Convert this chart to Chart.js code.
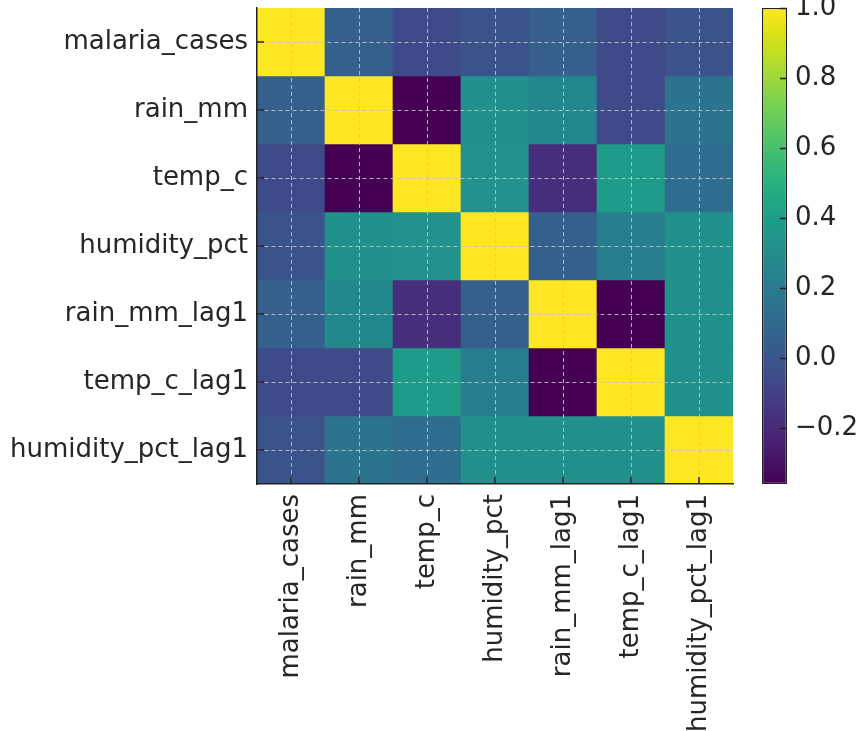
<!DOCTYPE html>
<html>
<head>
<meta charset="utf-8">
<script src="https://cdn.jsdelivr.net/npm/chart.js@4.4.1/dist/chart.umd.min.js"></script>
<style>
  html, body { margin: 0; padding: 0; background: #fff; }
  #wrap { position: relative; width: 858px; height: 731px; overflow: hidden; }
  #heatmap { position: absolute; left: 0; top: 0; }
  #colorbar { position: absolute; left: 740px; top: 0; }
</style>
</head>
<body>
<div id="wrap">
  <canvas id="heatmap" width="740" height="731"></canvas>
  <canvas id="colorbar" width="118" height="731"></canvas>
</div>
<script>
// Variables (rows and columns of the correlation matrix)
const variables = ['malaria_cases', 'rain_mm', 'temp_c', 'humidity_pct', 'rain_mm_lag1', 'temp_c_lag1', 'humidity_pct_lag1'];

// Correlation rows
const malariaCases    = [ 1.00,  0.05, -0.06, -0.01,  0.05, -0.06, -0.02];
const rainMm          = [ 0.05,  1.00, -0.36,  0.32,  0.27, -0.06,  0.16];
const tempC           = [-0.06, -0.36,  1.00,  0.33, -0.18,  0.39,  0.12];
const humidityPct     = [-0.01,  0.32,  0.33,  1.00,  0.05,  0.22,  0.32];
const rainMmLag1      = [ 0.05,  0.27, -0.18,  0.05,  1.00, -0.36,  0.32];
const tempCLag1       = [-0.06, -0.06,  0.39,  0.22, -0.36,  1.00,  0.32];
const humidityPctLag1 = [-0.02,  0.16,  0.12,  0.32,  0.32,  0.32,  1.00];

const colorbarTicks = [-0.2, 0.0, 0.2, 0.4, 0.6, 0.8, 1.0];

const corrRows = [malariaCases, rainMm, tempC, humidityPct, rainMmLag1, tempCLag1, humidityPctLag1];
const vMin = Math.min(...corrRows.flat());
const vMax = Math.max(...corrRows.flat());

// viridis colormap stops
const viridis = ['#440154', '#471365', '#482475', '#463480', '#414487', '#3b528b', '#355f8d', '#2f6c8e',
  '#2a788e', '#25848e', '#21918c', '#1e9c89', '#22a884', '#2fb47c', '#44bf70', '#5ec962',
  '#7ad151', '#9bd93c', '#bddf26', '#dfe318', '#fde725'];

function hexToRgb(h) {
  return [parseInt(h.slice(1, 3), 16), parseInt(h.slice(3, 5), 16), parseInt(h.slice(5, 7), 16)];
}

function viridisColor(t) {
  t = Math.max(0, Math.min(1, t));
  const pos = t * (viridis.length - 1);
  const i = Math.min(Math.floor(pos), viridis.length - 2);
  const f = pos - i;
  const a = hexToRgb(viridis[i]), b = hexToRgb(viridis[i + 1]);
  const c = a.map((v, k) => Math.round(v + (b[k] - v) * f));
  return 'rgb(' + c.join(',') + ')';
}

function colorFor(v) {
  return viridisColor((v - vMin) / (vMax - vMin));
}

const FONT = { family: 'DejaVu Sans', size: 26 };
const TEXT = '#262626';
const AXIS = '#222222';
const GRID = 'rgba(195,195,195,0.9)';
Chart.defaults.font.family = 'DejaVu Sans';

// Tick marks drawn inside the plot, like the original
const insideTicks = {
  id: 'insideTicks',
  afterDraw(chart) {
    const { ctx, chartArea, scales } = chart;
    ctx.save();
    ctx.strokeStyle = AXIS;
    ctx.lineWidth = 1.5;
    ctx.beginPath();
    if (chart.canvas.id === 'heatmap') {
      scales.x.ticks.forEach((t, i) => {
        const x = scales.x.getPixelForTick(i);
        ctx.moveTo(x, chartArea.bottom);
        ctx.lineTo(x, chartArea.bottom - 7);
      });
      scales.y.ticks.forEach((t, i) => {
        const y = scales.y.getPixelForTick(i);
        ctx.moveTo(chartArea.left, y);
        ctx.lineTo(chartArea.left + 7, y);
      });
    } else {
      scales.y.ticks.forEach((t, i) => {
        const y = Math.round(scales.y.getPixelForTick(i)) + 0.5;
        ctx.moveTo(chartArea.right, y);
        ctx.lineTo(chartArea.right - 7, y);
      });
    }
    ctx.stroke();
    ctx.restore();
  }
};

// Heatmap: one dataset per row, floating bars spanning each row
const heatDatasets = corrRows.map((row, r) => ({
  label: variables[r],
  data: row.map(() => [r - 0.5, r + 0.5]),
  backgroundColor: ctx => colorFor(row[ctx.dataIndex]),
  borderWidth: 0,
  barPercentage: 1,
  categoryPercentage: 1,
  grouped: false
}));

new Chart(document.getElementById('heatmap'), {
  type: 'bar',
  data: { labels: variables, datasets: heatDatasets },
  options: {
    responsive: false,
    animation: false,
    layout: { padding: { top: 8, right: 7, bottom: 0, left: 0 } },
    plugins: { legend: { display: false }, tooltip: { enabled: false } },
    scales: {
      x: {
        type: 'category',
        offset: true,
        grid: { offset: false, color: GRID, lineWidth: 1, drawTicks: false, z: 1 },
        border: { display: true, color: AXIS, width: 1.5, dash: [4, 3], z: 2 },
        ticks: { font: FONT, color: TEXT, minRotation: 90, maxRotation: 90, autoSkip: false, padding: 10 },
        afterFit(scale) {
          scale.height = 247;
          scale.paddingLeft = 0;
          scale.paddingRight = 0;
        }
      },
      y: {
        type: 'linear',
        reverse: true,
        min: -0.5,
        max: 6.5,
        afterBuildTicks(scale) {
          scale.ticks = variables.map((v, i) => ({ value: i }));
        },
        grid: { color: GRID, lineWidth: 1, drawTicks: false, z: 1 },
        border: { display: true, color: AXIS, width: 1.5, dash: [4, 3], z: 2 },
        ticks: {
          font: FONT,
          color: TEXT,
          padding: 9,
          callback: v => variables[v] || ''
        },
        afterFit(scale) {
          scale.width = 257;
          scale.paddingTop = 0;
          scale.paddingBottom = 0;
        }
      }
    }
  },
  plugins: [insideTicks]
});

// Colorbar: a single floating bar filled with the viridis gradient
function colorbarGradient(ctx) {
  const chart = ctx.chart;
  const y = chart.scales.y;
  if (!y || !chart.chartArea) return viridis[10];
  const g = chart.ctx.createLinearGradient(0, y.getPixelForValue(vMin), 0, y.getPixelForValue(vMax));
  viridis.forEach((c, i) => g.addColorStop(i / (viridis.length - 1), c));
  return g;
}

new Chart(document.getElementById('colorbar'), {
  type: 'bar',
  data: {
    labels: [''],
    datasets: [{
      data: [[vMin, vMax]],
      backgroundColor: colorbarGradient,
      borderColor: AXIS,
      borderWidth: 1.3,
      borderSkipped: false,
      inflateAmount: 0,
      barPercentage: 1,
      categoryPercentage: 1
    }]
  },
  options: {
    responsive: false,
    animation: false,
    layout: { padding: { top: 8, right: 0, bottom: 247, left: 22 } },
    plugins: { legend: { display: false }, tooltip: { enabled: false } },
    scales: {
      x: { display: false },
      y: {
        type: 'linear',
        position: 'right',
        min: vMin,
        max: vMax,
        afterBuildTicks(scale) {
          scale.ticks = colorbarTicks.map(v => ({ value: v }));
        },
        grid: { drawOnChartArea: false, drawTicks: false },
        border: { display: false },
        ticks: {
          font: FONT,
          color: TEXT,
          padding: 8,
          callback: v => (v < 0 ? '\u2212' : '') + Math.abs(v).toFixed(1)
        },
        afterFit(scale) {
          scale.width = 71;
          scale.paddingTop = 0;
          scale.paddingBottom = 0;
        }
      }
    }
  },
  plugins: [insideTicks]
});
</script>
</body>
</html>
